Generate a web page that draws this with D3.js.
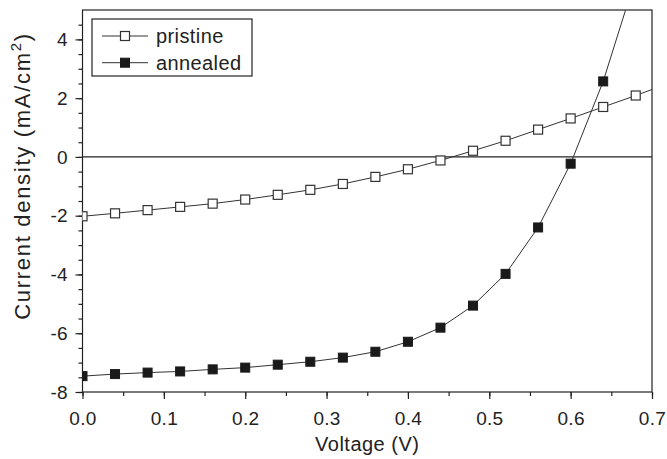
<!DOCTYPE html>
<html>
<head>
<meta charset="utf-8">
<script src="https://cdn.jsdelivr.net/npm/d3@7"></script>
<style>
  html, body { margin: 0; padding: 0; background: #fff; }
  svg { display: block; font-family: "Liberation Sans", Arial, Helvetica, sans-serif; }
</style>
</head>
<body>
<svg id="chart" width="667" height="459"></svg>
<script>
// ---- data ----
const voltage = [0.00, 0.04, 0.08, 0.12, 0.16, 0.20, 0.24, 0.28, 0.32, 0.36, 0.40, 0.44, 0.48, 0.52, 0.56, 0.60, 0.64, 0.68];
const pristine = [-2.02, -1.92, -1.81, -1.70, -1.59, -1.45, -1.29, -1.12, -0.92, -0.68, -0.42, -0.12, 0.21, 0.55, 0.93, 1.31, 1.70, 2.09];
const annealed = [-7.46, -7.39, -7.34, -7.30, -7.23, -7.17, -7.07, -6.97, -6.83, -6.63, -6.29, -5.81, -5.06, -3.98, -2.40, -0.23, 2.57, 6.10];
// points just past the frame (curve continues to the edge, clipped)
const pristineTailV = [0.72];
const pristineTail = [2.50];
const seriesNames = ["pristine", "annealed"];
const xTicks = [0.0, 0.1, 0.2, 0.3, 0.4, 0.5, 0.6, 0.7];
const yTicks = [-8, -6, -4, -2, 0, 2, 4];
const xTitle = "Voltage (V)";
const yTitle = "Current density (mA/cm";

// ---- layout ----
const svg = d3.select("#chart");
const L = 82.5, R = 652, T = 10, B = 392;
const ink = "#222";
const x = d3.scaleLinear().domain([0, 0.7]).range([L, R]);
const y = d3.scaleLinear().domain([-8, 5]).range([B, T]);

svg.append("defs").append("clipPath").attr("id", "plotclip")
  .append("rect").attr("x", L).attr("y", T).attr("width", R - L).attr("height", B - T);

// zero line
svg.append("line").attr("x1", L).attr("x2", R).attr("y1", y(0)).attr("y2", y(0))
  .attr("stroke", ink).attr("stroke-width", 1.2);

// axes
const xMinor = d3.range(0, 0.7001, 0.05);
const yMinor = d3.range(-8, 4.6, 0.5);
const xAxisMinor = d3.axisBottom(x).tickValues(xMinor).tickSize(4).tickFormat("");
const xAxis = d3.axisBottom(x).tickValues(xTicks).tickSize(7).tickPadding(8).tickFormat(d3.format(".1f"));
const yAxisMinor = d3.axisLeft(y).tickValues(yMinor).tickSize(4).tickFormat("");
const yAxis = d3.axisLeft(y).tickValues(yTicks).tickSize(7).tickPadding(8).tickFormat(d => d);

function styleAxis(g) {
  g.select(".domain").remove();
  g.selectAll(".tick line").attr("stroke", ink).attr("stroke-width", 1.2);
  g.selectAll(".tick text").attr("fill", ink).style("font-size", "19px")
    .style("font-family", '"Liberation Sans", Arial, sans-serif');
}
svg.append("g").attr("transform", `translate(0,${B})`).call(xAxisMinor).call(styleAxis);
svg.append("g").attr("transform", `translate(0,${B})`).call(xAxis).call(styleAxis)
  .selectAll(".tick text").attr("dy", "0.95em").style("letter-spacing", "0.3px");
svg.append("g").attr("transform", `translate(0,0)`).attr("transform", `translate(${L},0)`).call(yAxisMinor).call(styleAxis);
svg.append("g").attr("transform", `translate(${L},0)`).call(yAxis).call(styleAxis);

// frame
svg.append("rect").attr("x", L).attr("y", T).attr("width", R - L).attr("height", B - T)
  .attr("fill", "none").attr("stroke", ink).attr("stroke-width", 1.2);

// series
const plot = svg.append("g").attr("clip-path", "url(#plotclip)");
const line = d3.line().x(d => x(d[0])).y(d => y(d[1]));
const pData = voltage.map((v, i) => [v, pristine[i]]).concat(pristineTailV.map((v, i) => [v, pristineTail[i]]));
const aData = voltage.map((v, i) => [v, annealed[i]]);
const lineColor = "#333";
plot.append("path").datum(pData).attr("d", line).attr("fill", "none").attr("stroke", lineColor).attr("stroke-width", 1);
plot.append("path").datum(aData).attr("d", line).attr("fill", "none").attr("stroke", lineColor).attr("stroke-width", 1);

const ms = 9;
plot.selectAll("rect.p").data(voltage.map((v, i) => [v, pristine[i]])).enter().append("rect")
  .attr("x", d => x(d[0]) - ms / 2).attr("y", d => y(d[1]) - ms / 2)
  .attr("width", ms).attr("height", ms).attr("fill", "#fff").attr("stroke", "#333").attr("stroke-width", 1.2);
plot.selectAll("rect.a").data(voltage.map((v, i) => [v, annealed[i]])).enter().append("rect")
  .attr("x", d => x(d[0]) - ms / 2).attr("y", d => y(d[1]) - ms / 2)
  .attr("width", ms).attr("height", ms).attr("fill", "#1a1a1a").attr("stroke", "#1a1a1a").attr("stroke-width", 1);

// axis titles
svg.append("text").attr("x", (L + R) / 2).attr("y", 451).attr("text-anchor", "middle")
  .attr("fill", ink).style("font-size", "20px").style("letter-spacing", "0.5px").text(xTitle);
const yt = svg.append("text").attr("transform", `translate(30,176) rotate(-90)`).attr("text-anchor", "middle")
  .attr("fill", ink).style("font-size", "22px").style("letter-spacing", "1.7px");
yt.append("tspan").text(yTitle);
yt.append("tspan").attr("dy", -9).style("font-size", "15px").text("2");
yt.append("tspan").attr("dy", 9).text(")");

// legend
const lg = svg.append("g");
lg.append("rect").attr("x", 92).attr("y", 19).attr("width", 160).attr("height", 57)
  .attr("fill", "#fff").attr("stroke", ink).attr("stroke-width", 1.2);
const rows = [36, 62.7];
seriesNames.forEach((name, i) => {
  const cy = rows[i];
  lg.append("line").attr("x1", 102).attr("x2", 148).attr("y1", cy).attr("y2", cy)
    .attr("stroke", lineColor).attr("stroke-width", 1);
  lg.append("rect").attr("x", 125 - ms / 2).attr("y", cy - ms / 2).attr("width", ms).attr("height", ms)
    .attr("fill", i === 0 ? "#fff" : "#1a1a1a").attr("stroke", i === 0 ? "#333" : "#1a1a1a")
    .attr("stroke-width", i === 0 ? 1.2 : 1);
  lg.append("text").attr("x", 156).attr("y", cy + 7).attr("fill", ink).style("font-size", "20px")
    .style("letter-spacing", "0.4px").text(name);
});
</script>
</body>
</html>
